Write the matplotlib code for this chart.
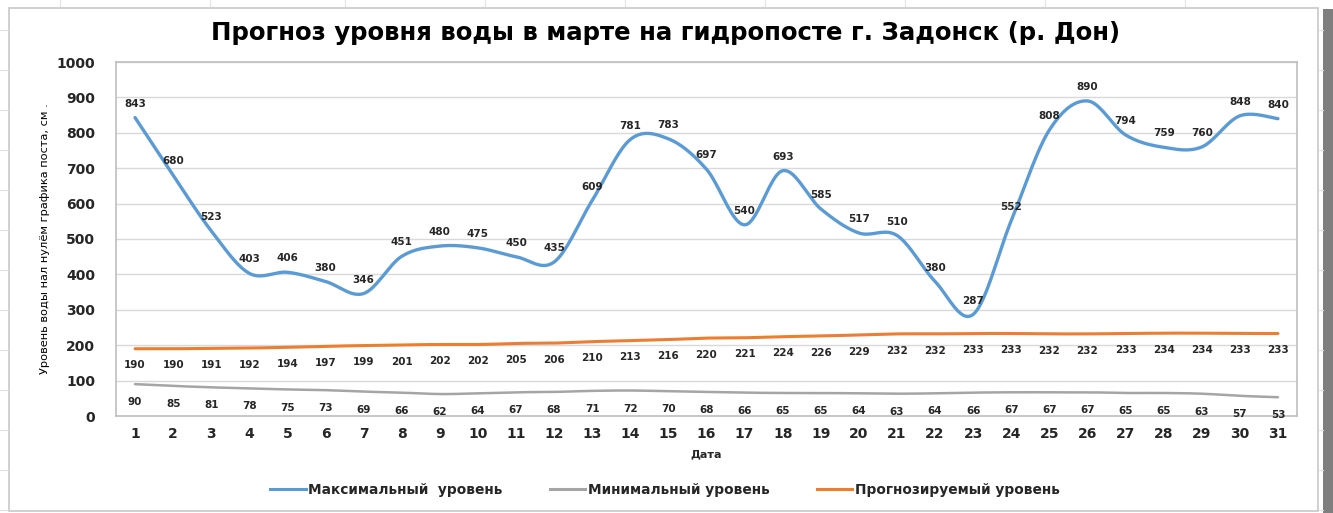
import numpy as np
import matplotlib
matplotlib.use("Agg")
import matplotlib.pyplot as plt
from matplotlib.lines import Line2D
from matplotlib.patches import Rectangle

plt.rcParams['font.family'] = ['DejaVu Sans']

days = list(range(1, 32))
max_level = [843, 680, 523, 403, 406, 380, 346, 451, 480, 475, 450, 435, 609, 781, 783,
             697, 540, 693, 585, 517, 510, 380, 287, 552, 808, 890, 794, 759, 760, 848, 840]
min_level = [90, 85, 81, 78, 75, 73, 69, 66, 62, 64, 67, 68, 71, 72, 70,
             68, 66, 65, 65, 64, 63, 64, 66, 67, 67, 67, 65, 65, 63, 57, 53]
forecast_level = [190, 190, 191, 192, 194, 197, 199, 201, 202, 202, 205, 206, 210, 213, 216,
                  220, 221, 224, 226, 229, 232, 232, 233, 233, 232, 232, 233, 234, 234, 233, 233]
y_ticks = [0, 100, 200, 300, 400, 500, 600, 700, 800, 900, 1000]

title = "Прогноз уровня воды в марте на гидропосте г. Задонск (р. Дон)"
ylabel = "Уровень воды нал нулём графика поста, см ."
xlabel = "Дата"
names = ["Максимальный  уровень", "Минимальный уровень", "Прогнозируемый уровень"]
c_max, c_min, c_fc = "#5B9BD5", "#A5A5A5", "#ED7D31"


def smooth(x, y, n=20):
    """Excel-like smoothed line (Catmull-Rom / cubic Bezier) through the points."""
    x = np.asarray(x, float)
    y = np.asarray(y, float)
    px = np.concatenate([[x[0]], x, [x[-1]]])
    py = np.concatenate([[y[0]], y, [y[-1]]])
    xs, ys = [], []
    t = np.linspace(0, 1, n, endpoint=False)
    for i in range(1, len(px) - 2):
        p0 = np.array([px[i], py[i]])
        p3 = np.array([px[i + 1], py[i + 1]])
        c1 = p0 + (np.array([px[i + 1], py[i + 1]]) - np.array([px[i - 1], py[i - 1]])) / 6
        c2 = p3 - (np.array([px[i + 2], py[i + 2]]) - np.array([px[i], py[i]])) / 6
        b = ((1 - t) ** 3)[:, None] * p0 + (3 * (1 - t) ** 2 * t)[:, None] * c1 + \
            (3 * (1 - t) * t ** 2)[:, None] * c2 + (t ** 3)[:, None] * p3
        xs.extend(b[:, 0]); ys.extend(b[:, 1])
    xs.append(x[-1]); ys.append(y[-1])
    return np.array(xs), np.array(ys)


W, H = 1333, 513
fig = plt.figure(figsize=(W / 100, H / 100), dpi=100)
fig.patch.set_facecolor("white")

# spreadsheet background bits
for gx in [60, 210, 345, 485, 625, 765, 905, 1045, 1185]:
    fig.add_artist(Line2D([gx / W, gx / W], [1 - 6 / H, 1], color="#E3E3E3", lw=0.8))
for gy in range(30, 513, 40):
    fig.add_artist(Line2D([1319 / W, 1323 / W], [1 - gy / H] * 2, color="#E0E0E0", lw=0.8))
    fig.add_artist(Line2D([0, 8 / W], [1 - gy / H] * 2, color="#E0E0E0", lw=0.8))
fig.add_artist(Rectangle((1323 / W, 0), 10 / W, 1 - 9 / H, color="#7F7F7F", lw=0))
fig.add_artist(Rectangle((9 / W, 2 / H), (1318 - 9) / W, (510 - 7) / H, fill=False,
                         edgecolor="#C8C8C8", lw=1.2))

L, R, T, B = 116, 1297, 62, 416
ax = fig.add_axes([L / W, 1 - B / H, (R - L) / W, (B - T) / H])
ax.set_xlim(0.5, 31.5)
ax.set_ylim(0, 1000)
ax.set_yticks(y_ticks)
ax.set_xticks(days)
ax.grid(axis="y", color="#D9D9D9", lw=1)
ax.set_axisbelow(True)
for s in ax.spines.values():
    s.set_color("#BFBFBF")
    s.set_linewidth(1.2)
ax.tick_params(length=0, labelsize=10, colors="#262626", pad=8)
for lab in ax.get_xticklabels() + ax.get_yticklabels():
    lab.set_fontweight("bold")
ax.tick_params(axis="y", pad=15)

for data, col, lw in [(max_level, c_max, 2.4), (min_level, c_min, 1.8), (forecast_level, c_fc, 2.2)]:
    sx, sy = smooth(days, data)
    ax.plot(sx, sy, color=col, lw=lw, solid_capstyle="round")

lab_kw = dict(textcoords="offset points", ha="center", va="center", fontsize=7.5,
              fontweight="bold", color="#262626")
for d, v in zip(days, max_level):
    ax.annotate(str(v), (d, v), xytext=(0, 10), **lab_kw)
for d, v in zip(days, forecast_level):
    ax.annotate(str(v), (d, v), xytext=(0, -12), **lab_kw)
for d, v in zip(days, min_level):
    ax.annotate(str(v), (d, v), xytext=(0, -13), **lab_kw)

ax.set_xlabel(xlabel, fontsize=8, fontweight="bold", color="#262626", labelpad=6)
ax.set_ylabel(ylabel, fontsize=8.2, color="black", labelpad=5)
fig.text(666 / W, 1 - 33 / H, title, ha="center", va="center", fontsize=17.6,
         fontweight="bold", color="black")

handles = [Line2D([], [], color=c_max, lw=2.2), Line2D([], [], color=c_min, lw=2.2),
           Line2D([], [], color=c_fc, lw=2.2)]
leg = fig.legend(handles, names, loc="center", bbox_to_anchor=(665 / W, 1 - 490 / H), ncol=3,
                 frameon=False, fontsize=9.9, handlelength=2.6, handletextpad=0.2,
                 columnspacing=3.4)
for t in leg.get_texts():
    t.set_fontweight("bold")
    t.set_color("#262626")

fig.savefig("out.png", dpi=100)
